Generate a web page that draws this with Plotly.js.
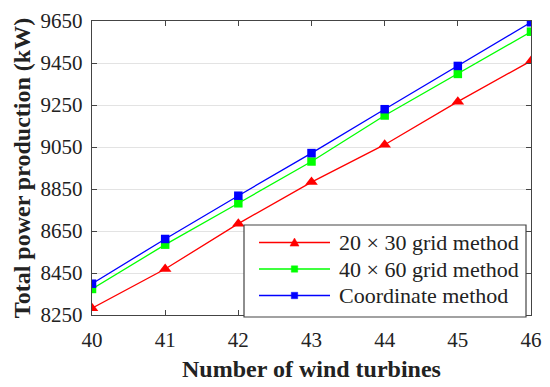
<!DOCTYPE html>
<html>
<head>
<meta charset="utf-8">
<script src="https://cdn.plot.ly/plotly-3.0.1.min.js"></script>
<style>html,body{margin:0;padding:0;background:#fff;}#chart{width:550px;height:387px;}</style>
</head>
<body>
<div id="chart"></div>
<script>
const turbines = [40, 41, 42, 43, 44, 45, 46];
const grid20x30 = [8282, 8469, 8685, 8883, 9061, 9266, 9460];
const grid40x60 = [8374, 8585, 8782, 8981, 9200, 9398, 9599];
const coordinate = [8399, 8612, 8818, 9021, 9230, 9436, 9644];
const seriesNames = ['20 \u00d7 30 grid method', '40 \u00d7 60 grid method', 'Coordinate method'];
const yTicks = [8250, 8450, 8650, 8850, 9050, 9250, 9450, 9650];

const colors = ['#ff0000', '#00ff00', '#0000ff'];
const symbols = ['triangle-up', 'square', 'square'];
const font = 'Liberation Serif, Times New Roman, serif';

// plot-area geometry (pixels) used for the hand-drawn legend box
const W = 550, H = 387, M = {l: 92, r: 19, t: 21, b: 72};
const pw = W - M.l - M.r, ph = H - M.t - M.b;
const px = v => (v - M.l) / pw;
const py = v => (H - M.b - v) / ph;

const seriesData = [grid20x30, grid40x60, coordinate];
const traces = seriesData.map((vals, i) => ({
  x: turbines, y: vals, name: seriesNames[i], mode: 'lines+markers',
  line: {color: colors[i], width: 1.3},
  marker: {symbol: symbols[i], size: i === 0 ? 11 : 8.5, color: colors[i]}
}));

// legend: box, sample lines, sample markers, labels
const box = {left: 244, right: 526, top: 225, bottom: 317};
const rowY = [242.5, 269, 295.5];
const lineX0 = 259, lineX1 = 330, markX = 294.5, textX = 337;
const shapes = [{type: 'rect', xref: 'paper', yref: 'paper', layer: 'above',
  x0: px(box.left), x1: px(box.right), y0: py(box.bottom), y1: py(box.top),
  fillcolor: '#fff', line: {color: '#444', width: 1.2}}];
const annotations = [];
rowY.forEach((ry, i) => {
  shapes.push({type: 'line', xref: 'paper', yref: 'paper', layer: 'above',
    x0: px(lineX0), x1: px(lineX1), y0: py(ry), y1: py(ry),
    line: {color: colors[i], width: 1.3}});
  if (symbols[i] === 'triangle-up') {
    const s = 4.5;
    shapes.push({type: 'path', xref: 'paper', yref: 'paper', layer: 'above',
      path: `M${px(markX - s)},${py(ry + s * 0.8)} L${px(markX + s)},${py(ry + s * 0.8)} L${px(markX)},${py(ry - s)} Z`,
      fillcolor: colors[i], line: {color: colors[i], width: 0.5}});
  } else {
    const s = 3.2;
    shapes.push({type: 'rect', xref: 'paper', yref: 'paper', layer: 'above',
      x0: px(markX - s), x1: px(markX + s), y0: py(ry + s), y1: py(ry - s),
      fillcolor: colors[i], line: {color: colors[i], width: 0.5}});
  }
  annotations.push({xref: 'paper', yref: 'paper', x: px(textX), y: py(ry),
    xanchor: 'left', yanchor: 'middle', showarrow: false, text: seriesNames[i],
    font: {family: font, size: 22, color: '#222'}});
});

const layout = {
  width: W, height: H,
  margin: M,
  paper_bgcolor: '#fff', plot_bgcolor: '#fff',
  font: {family: font, size: 21, color: '#222'},
  showlegend: false,
  shapes: shapes, annotations: annotations,
  xaxis: {
    range: [40, 46], tickvals: turbines, ticktext: turbines.map(String),
    showgrid: false, zeroline: false,
    showline: true, linecolor: '#444', linewidth: 1.3, mirror: 'ticks',
    ticks: 'inside', ticklen: 5, tickcolor: '#444', ticklabelstandoff: 5,
    tickfont: {family: font, size: 21, color: '#222'},
    title: {text: '<b>Number of wind turbines</b>', font: {family: font, size: 24, color: '#222'}, standoff: 9}
  },
  yaxis: {
    range: [8250, 9650], tickvals: yTicks, ticktext: yTicks.map(String),
    showgrid: true, gridcolor: '#e3e3e3', gridwidth: 1, zeroline: false,
    showline: true, linecolor: '#444', linewidth: 1.3, mirror: 'ticks',
    ticks: 'inside', ticklen: 5, tickcolor: '#444', ticklabelstandoff: 4,
    tickfont: {family: font, size: 21, color: '#222'},
    title: {text: '<b>Total power production (kW)</b>', font: {family: font, size: 24, color: '#222'}, standoff: 3}
  }
};

Plotly.newPlot('chart', traces, layout, {displayModeBar: false, staticPlot: true});
</script>
</body>
</html>
